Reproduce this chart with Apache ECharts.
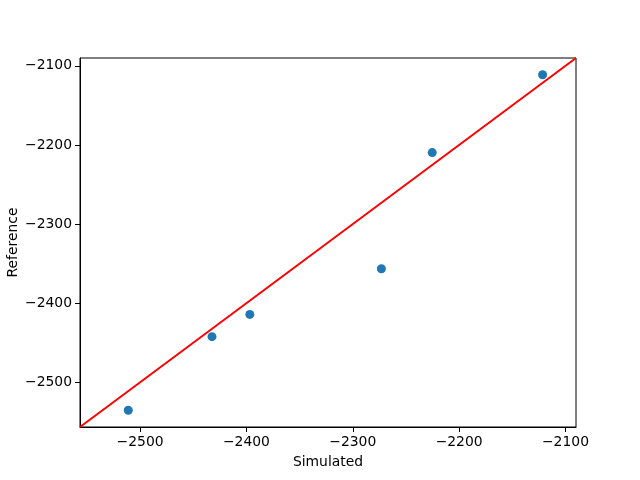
<!DOCTYPE html>
<html>
<head>
<meta charset="utf-8">
<script src="https://cdn.jsdelivr.net/npm/echarts@6/dist/echarts.min.js"></script>
<style>html,body{margin:0;padding:0;background:#fff}#c{width:640px;height:480px}</style>
</head>
<body>
<div id="c"></div>
<script>
var simulated = [-2511.1, -2432.4, -2396.8, -2273.1, -2225.3, -2121.5];
var reference = [-2535.3, -2442.3, -2414.2, -2356.5, -2209.7, -2111.3];
var xTicks = [-2500, -2400, -2300, -2200, -2100];
var yTicks = [-2500, -2400, -2300, -2200, -2100];

var all = simulated.concat(reference);
var lo = Math.min.apply(null, all), hi = Math.max.apply(null, all);
var pad = (hi - lo) * 0.05;
var axMin = lo - pad, axMax = hi + pad;

function fmt(v){ return v < 0 ? '\u2212' + Math.abs(v) : String(v); }

var pts = simulated.map(function(s, i){ return [s, reference[i]]; });
var font = 'DejaVu Sans';

var chart = echarts.init(document.getElementById('c'), null, {renderer:'canvas'});
chart.setOption({
  animation: false,
  backgroundColor: '#fff',
  grid: {left: 80, right: 64, top: 58, bottom: 53, containLabel: false, outerBoundsMode: 'none',
         show: true, borderColor: '#000', borderWidth: 1, backgroundColor: 'transparent'},
  xAxis: {
    type: 'value', min: axMin, max: axMax,
    name: 'Simulated', nameLocation: 'middle', nameGap: 28, nameMoveOverlap: false,
    nameTextStyle: {fontFamily: font, fontSize: 13.9, color: '#000'},
    axisLine: {show: true, onZero: false, lineStyle: {color: '#000', width: 1}},
    axisTick: {show: true, length: 5, customValues: xTicks, lineStyle: {color: '#000'}},
    axisLabel: {customValues: xTicks, margin: 8, fontFamily: font, fontSize: 13.9, color: '#000', formatter: fmt},
    splitLine: {show: false}
  },
  yAxis: {
    type: 'value', min: axMin, max: axMax,
    name: 'Reference', nameLocation: 'middle', nameGap: 60, nameMoveOverlap: false,
    nameTextStyle: {fontFamily: font, fontSize: 13.9, color: '#000'},
    axisLine: {show: true, onZero: false, lineStyle: {color: '#000', width: 1}},
    axisTick: {show: true, length: 5, customValues: yTicks, lineStyle: {color: '#000'}},
    axisLabel: {customValues: yTicks, margin: 8, fontFamily: font, fontSize: 13.9, color: '#000', formatter: fmt},
    splitLine: {show: false}
  },
  series: [
    {
      type: 'scatter', data: pts, symbolSize: 9,
      itemStyle: {color: '#1f77b4', opacity: 1}, z: 2
    },
    {
      type: 'line', data: [[axMin, axMin], [axMax, axMax]], symbol: 'none', clip: true,
      lineStyle: {color: '#ff0000', width: 2}, z: 3
    }
  ]
});
</script>
</body>
</html>
